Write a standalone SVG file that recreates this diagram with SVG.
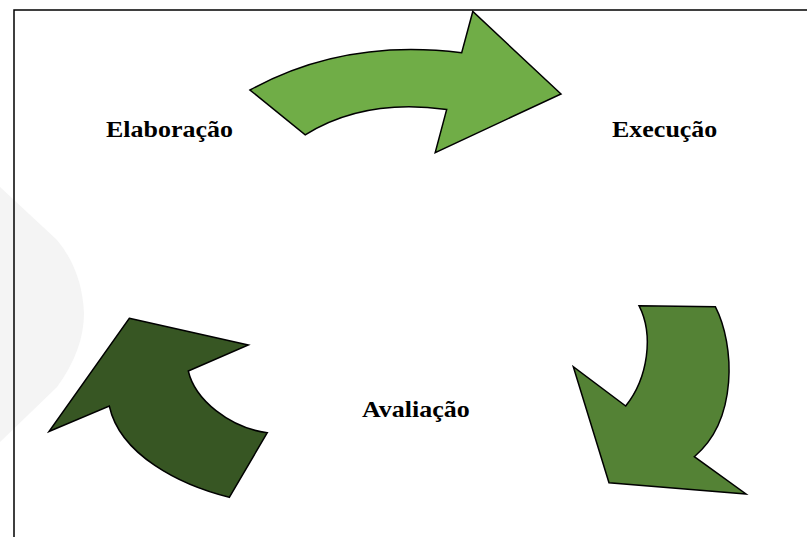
<svg xmlns="http://www.w3.org/2000/svg" width="807" height="537" viewBox="0 0 807 537">
  <style>
    .lbl { font-family: "Liberation Serif", "Times New Roman", serif; font-weight: bold; font-size: 23px; fill: #000; }
    .arr { stroke: #000; stroke-width: 1.5; stroke-linejoin: miter; }
    .frame { stroke: #000; stroke-width: 1.5; fill: none; }
  </style>
  <rect width="807" height="537" fill="#fff"/>
  <path d="M0,187 L57,240 Q82,270 84,313 Q84,350 57,387 L0,442 Z" fill="#f4f4f4"/>
  <path class="frame" d="M14,537 L14,10 L807,10"/>
  <g id="connectors">
    <path class="arr" fill="#70ad47" d="M250,90 Q344,38 461.7,52.7 L472.8,11.5 L561,94 L435.2,152.6 L446.7,109.4 Q364,98 305.2,134.8 Z"/>
    <path class="arr" fill="#548235" d="M639,305.7 L715.3,306.7 C735,345 738,420 694.3,456.7 L746,494 L609,482.7 L573.3,366.7 L625.7,406 C648,378 654,335 639,305.7 Z"/>
    <path class="arr" fill="#375623" d="M129.3,318.3 L248.3,345 L188.3,371 C195,400 230,428 267.3,432.7 L229.3,497.3 C180,485 120,455 109.3,406 L49,431.5 Z"/>
  </g>
  <g id="elaboracao"><text class="lbl" transform="translate(106,136.5) scale(1.13,1)">Elaboração</text></g>
  <g id="execucao"><text class="lbl" transform="translate(612,136.5) scale(1.13,1)">Execução</text></g>
  <g id="avaliacao"><text class="lbl" transform="translate(362,417) scale(1.13,1)">Avaliação</text></g>
</svg>
